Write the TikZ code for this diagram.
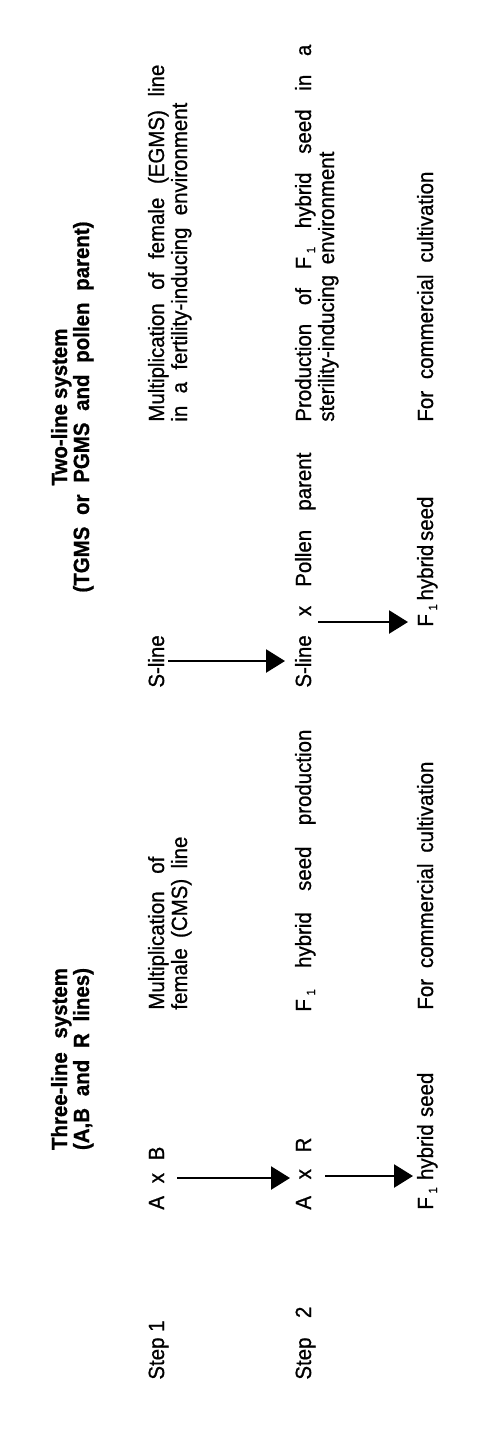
\documentclass[tikz,border=0pt]{standalone}
\usepackage{fontspec}
\setmainfont{Liberation Sans}[FakeStretch=0.93, UprightFeatures={FakeBold=0.8}, BoldFeatures={FakeBold=0.8}]
\usetikzlibrary{arrows.meta}
\newcommand\jb[2]{\makebox[\dimexpr 0.5pt*#1\relax][s]{#2}}
\newcommand\Fone{F\,\raisebox{-0.35ex}{\fontsize{6}{7}\selectfont 1}}
\tikzset{
  txt/.style={rotate=90, anchor=base west, inner sep=0pt, font=\fontsize{11}{13}\selectfont},
  hdr/.style={rotate=90, anchor=base, inner sep=0pt, font=\bfseries\fontsize{11}{13}\selectfont},
  arr/.style={line width=1.25pt, -{Triangle[length=9.5pt,width=11.5pt]}},
}
\begin{document}
\begin{tikzpicture}[x=0.5pt,y=-0.5pt]
\fill[white] (0,0) rectangle (500,1447);
\useasboundingbox (0,0) rectangle (500,1447);
% headers
\node[hdr] (h3a) at (67,1059) {\jb{182}{Three-line system}};
\node[hdr] (h3b) at (89,1059) {\jb{182}{(A,B and R lines)}};
\node[hdr] (h2a) at (67,407) {\jb{157}{Two-line system}};
\node[hdr] (h2b) at (89,407) {\jb{371}{(TGMS or PGMS and pollen parent)}};
% step labels
\node[txt] (s1) at (164,1380) {Step 1};
\node[txt] (s2) at (311,1380) {\jb{73}{Step 2}};
% three-line system
\node[txt] (axb) at (164,1210) {\jb{63}{A x B}};
\node[txt] (axr) at (311,1210) {\jb{72}{A x R}};
\node[txt] (f1a) at (433,1210) {\jb{137}{\Fone{} hybrid seed}};
\node[txt] (m1) at (164,1010) {\jb{153}{Multiplication of}};
\node[txt] (m2) at (187,1010) {\jb{173}{female (CMS) line}};
\node[txt] (p1) at (311,1012) {\jb{282}{\Fone{} hybrid seed production}};
\node[txt] (c1) at (433,1010) {\jb{248}{For commercial cultivation}};
% two-line system
\node[txt] (sl1) at (164,688) {S-line};
\node[txt] (sl2) at (311,688) {\jb{235}{S-line x Pollen parent}};
\node[txt] (f1b) at (433,627) {\jb{129}{\Fone{} hybrid seed}};
\node[txt] (tm1) at (164,422) {\jb{357}{Multiplication of female (EGMS) line}};
\node[txt] (tm2) at (187,422) {\jb{319}{in a fertility-inducing environment}};
\node[txt] (tp1) at (311,422) {\jb{377}{Production of \Fone{} hybrid seed in a}};
\node[txt] (tp2) at (334,422) {\jb{270}{sterility-inducing environment}};
\node[txt] (tc) at (433,422) {\jb{250}{For commercial cultivation}};
% arrows
\coordinate (a1s) at (177,1178); \coordinate (a1e) at (290,1178);
\coordinate (a2s) at (325,1176); \coordinate (a2e) at (413,1176);
\coordinate (a3s) at (168,661);  \coordinate (a3e) at (285,661);
\coordinate (a4s) at (318,622);  \coordinate (a4e) at (408,622);
\draw[arr] (a1s) -- (a1e);
\draw[arr] (a2s) -- (a2e);
\draw[arr] (a3s) -- (a3e);
\draw[arr] (a4s) -- (a4e);
\end{tikzpicture}
\end{document}
